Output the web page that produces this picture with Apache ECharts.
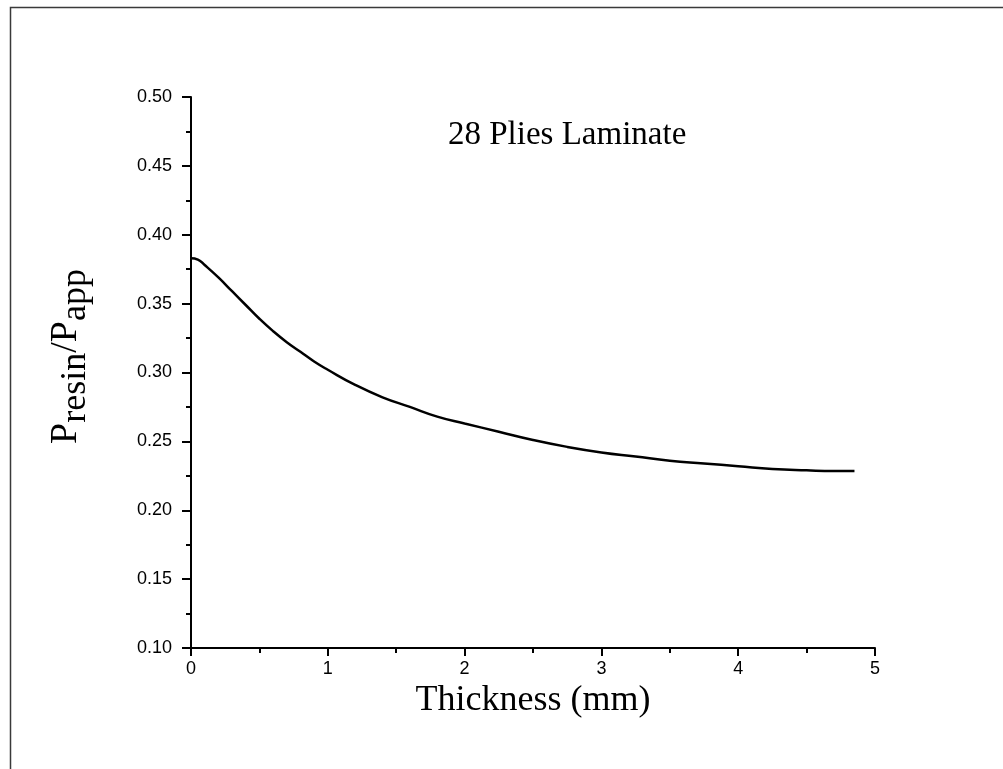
<!DOCTYPE html>
<html>
<head>
<meta charset="utf-8">
<script src="https://cdn.jsdelivr.net/npm/echarts@6/dist/echarts.min.js"></script>
<style>
html,body{margin:0;padding:0;background:#fff;}
#c{width:1003px;height:769px;}
</style>
</head>
<body>
<div id="c"></div>
<script>
// Thickness (mm)
const thickness = [0, 0.05, 0.1, 0.2, 0.3, 0.4, 0.5, 0.6, 0.7, 0.8, 0.9, 1.0, 1.2, 1.4, 1.6, 1.8, 2.0, 2.25, 2.5, 2.75, 3.0, 3.25, 3.5, 3.75, 4.0, 4.25, 4.5, 4.7, 4.85];
// P_resin / P_app
const pressureRatio = [0.383, 0.382, 0.378, 0.369, 0.359, 0.349, 0.339, 0.330, 0.322, 0.315, 0.308, 0.302, 0.291, 0.282, 0.275, 0.268, 0.263, 0.257, 0.251, 0.246, 0.242, 0.239, 0.236, 0.234, 0.232, 0.230, 0.229, 0.2285, 0.2285];
const chartLabel = '28 Plies Laminate';
const xTitle = 'Thickness (mm)';

const chart = echarts.init(document.getElementById('c'));
const serif = 'Liberation Serif, Times New Roman, serif';
const sans = 'Liberation Sans, Arial, sans-serif';

chart.setOption({
  animation: false,
  backgroundColor: '#fff',
  title: {
    text: chartLabel,
    left: 443,
    top: 114,
    textStyle: {fontFamily: serif, fontSize: 33, fontWeight: 'normal', color: '#000'}
  },
  graphic: [{
    type: 'rect',
    shape: {x: 10.5, y: 7.5, width: 1000, height: 780},
    style: {fill: null, stroke: '#3a3a3a', lineWidth: 1.5},
    silent: true
  }],
  grid: {left: 191, top: 97, right: 128, bottom: 121, containLabel: false},
  xAxis: {
    type: 'value',
    min: 0, max: 5, interval: 1,
    name: xTitle,
    nameLocation: 'middle',
    nameGap: 30,
    nameTextStyle: {fontFamily: serif, fontSize: 36, color: '#000'},
    axisLine: {show: true, onZero: false, lineStyle: {color: '#000', width: 2}},
    axisTick: {show: true, length: 8, lineStyle: {color: '#000', width: 2}},
    minorTick: {show: true, splitNumber: 2, length: 5, lineStyle: {color: '#000', width: 2}},
    axisLabel: {fontFamily: sans, fontSize: 18, color: '#000', margin: 12},
    splitLine: {show: false}
  },
  yAxis: {
    type: 'value',
    min: 0.1, max: 0.5, interval: 0.05,
    name: '{p|P}{s|resin}{p|/P}{s|app}',
    nameLocation: 'middle',
    nameRotate: 90,
    nameGap: 106,
    nameTextStyle: {
      fontFamily: serif, color: '#000',
      padding: [0, 0, 0, 32],
      rich: {
        p: {fontFamily: serif, fontSize: 38, lineHeight: 38, color: '#000', verticalAlign: 'top'},
        s: {fontFamily: serif, fontSize: 36, lineHeight: 36, color: '#000', verticalAlign: 'top', padding: [11, 0, 0, 0]}
      }
    },
    axisLine: {show: true, lineStyle: {color: '#000', width: 2}},
    axisTick: {show: true, length: 9, lineStyle: {color: '#000', width: 2}},
    minorTick: {show: true, splitNumber: 2, length: 5, lineStyle: {color: '#000', width: 2}},
    axisLabel: {fontFamily: sans, fontSize: 18, color: '#000', margin: 19, formatter: v => v.toFixed(2)},
    splitLine: {show: false}
  },
  series: [{
    type: 'line',
    data: thickness.map((t, i) => [t, pressureRatio[i]]),
    showSymbol: false,
    smooth: 0.5,
    lineStyle: {color: '#000', width: 2.5},
    clip: false
  }]
});
</script>
</body>
</html>
